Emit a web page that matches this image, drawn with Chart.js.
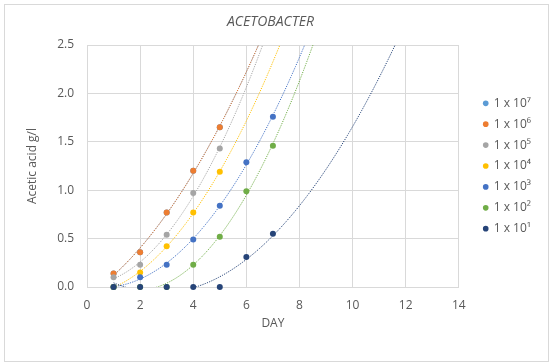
<!DOCTYPE html>
<html>
<head>
<meta charset="utf-8">
<script src="https://cdn.jsdelivr.net/npm/chart.js@4"></script>
<style>
  body { margin: 0; background: #fff; }
  canvas { position: absolute; left: 0; top: 0; }
  #frame { position: absolute; left: 4px; top: 4px; width: 545px; height: 358px;
           box-sizing: border-box; border: 1px solid #d9d9d9; pointer-events: none; }
</style>
</head>
<body>
<canvas id="chart" width="550" height="362"></canvas>
<div id="frame"></div>
<script>
// values (g/l per day)
const days = [1, 2, 3, 4, 5, 6, 7];
const seriesNames = ['1 x 10⁷', '1 x 10⁶', '1 x 10⁵', '1 x 10⁴', '1 x 10³', '1 x 10²', '1 x 10¹'];
const seriesColors = ['#5B9BD5', '#ED7D31', '#A5A5A5', '#FFC000', '#4472C4', '#70AD47', '#264478'];
const acid1e7 = [0.14, 0.36, 0.77, 1.20, 1.65]; // sits under the 1e6 points
const acid1e6 = [0.14, 0.36, 0.77, 1.20, 1.65];
const acid1e5 = [0.10, 0.23, 0.54, 0.97, 1.43];
const acid1e4 = [0.00, 0.15, 0.42, 0.77, 1.19];
const acid1e3 = [0.00, 0.10, 0.23, 0.49, 0.84, 1.29, 1.76];
const acid1e2 = [0.00, 0.00, 0.00, 0.23, 0.52, 0.99, 1.46];
const acid1e1 = [0.00, 0.00, 0.00, 0.00, 0.00, 0.31, 0.55];
const xTicks = [0, 2, 4, 6, 8, 10, 12, 14];

const allSeries = [acid1e7, acid1e6, acid1e5, acid1e4, acid1e3, acid1e2, acid1e1];
const textColor = '#595959';
const gridColor = '#d9d9d9';
const font = 'Open Sans';

// polynomial (order 2) trendline like Excel, least squares on the points
function quadFit(xs, ys) {
    let s = [0, 0, 0, 0, 0], t = [0, 0, 0];
    xs.forEach((x, i) => {
        for (let k = 0; k < 5; k++) s[k] += Math.pow(x, k);
        for (let k = 0; k < 3; k++) t[k] += ys[i] * Math.pow(x, k);
    });
    const m = [[s[0], s[1], s[2]], [s[1], s[2], s[3]], [s[2], s[3], s[4]]];
    const det = (a) => a[0][0] * (a[1][1] * a[2][2] - a[1][2] * a[2][1])
        - a[0][1] * (a[1][0] * a[2][2] - a[1][2] * a[2][0])
        + a[0][2] * (a[1][0] * a[2][1] - a[1][1] * a[2][0]);
    const d = det(m);
    const coef = [0, 1, 2].map(c => det(m.map((row, r) => row.map((v, j) => (j === c ? t[r] : v)))) / d);
    return (x) => coef[0] + coef[1] * x + coef[2] * x * x;
}

const datasets = [];
allSeries.forEach((vals, i) => {
    const xs = days.slice(0, vals.length);
    datasets.push({
        label: seriesNames[i],
        data: vals.map((v, j) => ({ x: xs[j], y: v })),
        backgroundColor: seriesColors[i],
        borderColor: seriesColors[i],
        pointRadius: 3,
        pointBorderWidth: 0,
        pointHoverRadius: 3,
        showLine: false,
        clip: false,
        order: 10 - i,
    });
});
allSeries.forEach((vals, i) => {
    const xs = days.slice(0, vals.length);
    const f = quadFit(xs, vals);
    const pts = [];
    for (let x = xs[0]; x <= 14.001; x += 0.05) pts.push({ x: x, y: f(x) });
    datasets.push({
        label: 'trend',
        data: pts,
        borderColor: seriesColors[i],
        borderWidth: 1,
        borderDash: [1.2, 1.2],
        pointRadius: 0,
        showLine: true,
        fill: false,
        clip: 0,
        order: 20 - i,
    });
});

new Chart(document.getElementById('chart'), {
    type: 'scatter',
    data: { datasets: datasets },
    options: {
        responsive: false,
        animation: false,
        events: [],
        layout: { padding: { left: 0, right: 9, top: 0, bottom: 0 } },
        plugins: {
            title: {
                display: true,
                text: 'ACETOBACTER',
                color: textColor,
                font: { family: font, size: 14, style: 'italic', weight: 'normal' },
                padding: { top: 14, bottom: 14.2 },
            },
            legend: {
                position: 'right',
                fullSize: false,
                labels: {
                    usePointStyle: true,
                    pointStyle: 'circle',
                    boxWidth: 4,
                    boxHeight: 4,
                    padding: 8.9,
                    color: textColor,
                    font: { family: font, size: 12 },
                    filter: (item) => item.datasetIndex < 7,
                    sort: (a, b) => a.datasetIndex - b.datasetIndex,
                },
            },
            tooltip: { enabled: false },
        },
        scales: {
            x: {
                type: 'linear',
                min: 0,
                max: 14,
                afterBuildTicks: (s) => { s.ticks = xTicks.map(v => ({ value: v })); },
                afterFit: (s) => { s.height = 75; },
                grid: { color: gridColor, drawTicks: false },
                border: { color: gridColor },
                ticks: { color: textColor, font: { family: font, size: 12 }, padding: 11 },
                title: {
                    display: true, text: 'DAY', color: textColor,
                    font: { family: font, size: 12 }, padding: { top: 0, bottom: 31.3 },
                },
            },
            y: {
                type: 'linear',
                min: 0,
                max: 2.5,
                afterFit: (s) => { s.width = 87; },
                grid: { color: gridColor, drawTicks: false },
                border: { color: gridColor },
                ticks: {
                    stepSize: 0.5, color: textColor, font: { family: font, size: 12 }, padding: 13,
                    callback: (v) => v.toFixed(1),
                },
                title: {
                    display: true, text: 'Acetic acid g/l', color: textColor,
                    font: { family: font, size: 12 }, padding: { top: 25.8, bottom: 0 },
                },
            },
            // spacer between plot and legend
            gap: {
                type: 'linear',
                position: 'right',
                display: true,
                afterFit: (s) => { s.width = 16; },
                grid: { display: false },
                border: { display: false },
                ticks: { display: false },
            },
        },
    },
});
</script>
</body>
</html>
